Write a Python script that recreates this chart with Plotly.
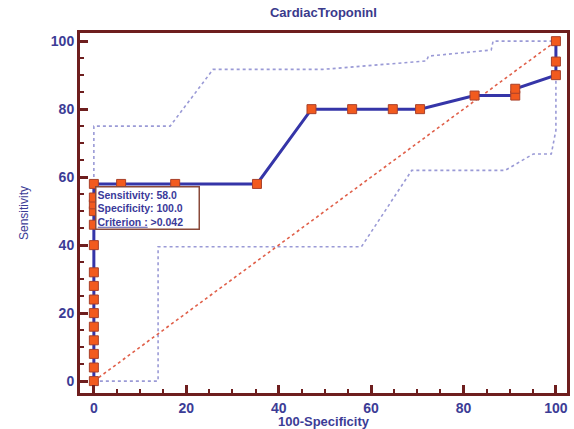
import plotly.graph_objects as go

# ROC curve points (100-Specificity, Sensitivity)
roc_x = [0, 0, 0, 0, 0, 0, 0, 0, 0, 0, 0, 0, 0, 0, 0,
         5.9, 17.6, 35.3, 47.1, 55.9, 64.7, 70.6, 82.4, 91.2, 91.2, 100, 100, 100]
roc_y = [0, 4, 8, 12, 16, 20, 24, 28, 32, 40, 46, 50, 52, 54, 58,
         58, 58, 58, 80, 80, 80, 80, 84, 84, 86, 90, 94, 100]

# Confidence bounds
ci_upper_x = [0, 0, 16.5, 25.8, 49.6, 72.0, 72.4, 86.0, 86.4, 100]
ci_upper_y = [0, 75, 75, 91.7, 91.7, 94.2, 95.6, 97.4, 100, 100]
ci_lower_x = [0, 13.9, 13.9, 57.9, 68.8, 89.0, 95.1, 99.0, 100, 100]
ci_lower_y = [0, 0, 39.5, 39.5, 62, 62, 66.8, 66.8, 73.8, 100]

# Reference diagonal
diag_x = [0, 100]
diag_y = [0, 100]

x_ticks = [0, 20, 40, 60, 80, 100]
y_ticks = [0, 20, 40, 60, 80, 100]

frame = "#6e1e1e"
blue_txt = "#3c3c96"
font_family = "Liberation Sans, Arial, sans-serif"

fig = go.Figure()
fig.add_trace(go.Scatter(x=ci_upper_x, y=ci_upper_y, mode="lines",
                         line=dict(color="#9a9ad6", width=1.6, dash="dot"), showlegend=False))
fig.add_trace(go.Scatter(x=ci_lower_x, y=ci_lower_y, mode="lines",
                         line=dict(color="#9a9ad6", width=1.6, dash="dot"), showlegend=False))
fig.add_trace(go.Scatter(x=diag_x, y=diag_y, mode="lines",
                         line=dict(color="#e0604a", width=1.6, dash="dot"), showlegend=False))
fig.add_trace(go.Scatter(x=roc_x, y=roc_y, mode="lines+markers",
                         line=dict(color="#3535a8", width=3),
                         marker=dict(symbol="square", size=9, color="#f25a1e",
                                     line=dict(color="#a8402a", width=1)),
                         showlegend=False))

fig.add_annotation(x=0.2, y=57.4, xref="x", yref="y", xanchor="left", yanchor="top",
                   text="Sensitivity: 58.0<br>Specificity: 100.0<br><u>Criterion :</u> &gt;0.042",
                   showarrow=False, align="left", width=100,
                   font=dict(family=font_family, size=10.5, color="#3a3a9a", weight="bold"),
                   bgcolor="white", bordercolor="#8a4a3a", borderwidth=1.5, borderpad=1)

axis_common = dict(
    showline=True, mirror=True, linecolor=frame, linewidth=3,
    showgrid=False, zeroline=False, automargin=False,
    ticks="inside", ticklen=8, tickwidth=2.5, tickcolor=frame,
    tickfont=dict(family=font_family, size=14, color=blue_txt, weight="bold"),
    minor=dict(ticks="inside", ticklen=4, tickwidth=1.5, tickcolor=frame, dtick=5, showgrid=False),
)

fig.update_xaxes(range=[-3, 102.4], tickvals=x_ticks, **axis_common,
                 title=dict(text="100-Specificity", standoff=3,
                            font=dict(family=font_family, size=13, color=blue_txt, weight="bold")))
fig.update_yaxes(range=[-3.5, 102.4], tickvals=y_ticks, **axis_common,
                 title=dict(text="Sensitivity", standoff=20,
                            font=dict(family=font_family, size=12, color=blue_txt)))

fig.update_layout(
    width=574, height=429,
    margin=dict(l=80, r=7, t=33, b=36),
    paper_bgcolor="white", plot_bgcolor="white",
    title=dict(text="CardiacTroponinI", x=0.5635, xanchor="center",
               y=1 - 12 / 429, yanchor="middle", yref="container",
               font=dict(family=font_family, size=13, color="#3a3a8c", weight="bold")),
)

fig.write_html("out.html", config={"displayModeBar": False},
               post_script="document.body.style.margin='0px';document.body.style.overflow='hidden';")
